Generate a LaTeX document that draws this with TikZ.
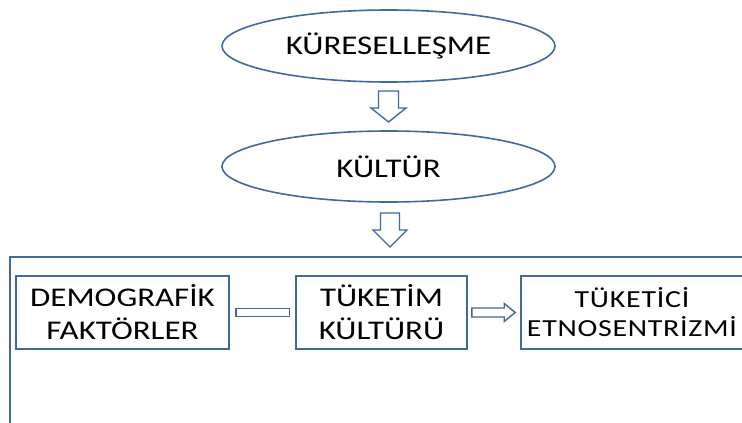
\documentclass[tikz,border=0pt]{standalone}
\usepackage{fontspec}
\setmainfont{Carlito}[FakeStretch=1.22]
\usetikzlibrary{shapes.geometric,calc}
\definecolor{lineblue}{HTML}{41699B}
\tikzset{
  oval/.style={ellipse, draw=lineblue, line width=1.6pt, inner sep=0pt},
  boxnode/.style={rectangle, draw=lineblue, line width=1.6pt, inner sep=0pt, align=center},
  hollow/.style={draw=lineblue, line width=1.4pt, fill=white, line join=miter},
  bigtxt/.style={font=\fontsize{27}{33}\selectfont},
  smalltxt/.style={font=\fontsize{24.5}{29}\selectfont\addfontfeature{LetterSpace=3}},
}
\begin{document}
\begin{tikzpicture}[x=1pt,y=-1pt]
\useasboundingbox (0,0) rectangle (742,423);
\begin{scope}
\clip (0,0) rectangle (742,423);
% ellipses
\node[oval, bigtxt, minimum width=333, minimum height=72] (glob) at (388.5,46) {KÜRESELLEŞME};
\node[oval, bigtxt, minimum width=333, minimum height=71] (kult) at (388.5,166.5) {KÜLTÜR};
% frame (open at right and bottom)
\coordinate (frameTL) at (10,257);
\draw[draw=lineblue, line width=1.6pt] (742,257) -- (frameTL) -- (10,430);
% boxes
\node[boxnode, bigtxt, minimum width=213, minimum height=73] (demo) at (122.5,312.5) {DEMOGRAFİK\\FAKTÖRLER};
\node[boxnode, bigtxt, minimum width=171, minimum height=73] (tuk) at (381.5,312.5) {TÜKETİM\\KÜLTÜRÜ};
\node[boxnode, smalltxt, minimum width=222, minimum height=73] (etno) at (632,312.5) {TÜKETİCİ\\ETNOSENTRİZMİ};
% hollow arrow glob -> kult
\coordinate (a1) at ($(glob.south)!0.5!(kult.north)$);
\draw[hollow] ([shift={(-10,-15.5)}]a1) -- ([shift={(10,-15.5)}]a1) -- ([shift={(10,1.5)}]a1) -- ([shift={(17.5,1.5)}]a1)
  -- ([shift={(0,15.5)}]a1) -- ([shift={(-17.5,1.5)}]a1) -- ([shift={(-10,1.5)}]a1) -- cycle;
% hollow arrow kult -> frame
\coordinate (a2) at (390,230);
\draw[hollow] ([shift={(-9.5,-17)}]a2) -- ([shift={(9.5,-17)}]a2) -- ([shift={(9.5,0)}]a2) -- ([shift={(17,0)}]a2)
  -- ([shift={(0,17)}]a2) -- ([shift={(-17,0)}]a2) -- ([shift={(-9.5,0)}]a2) -- cycle;
% hollow bar demo -- tuk
\draw[hollow] ($(demo.east)+(6,-4)$) rectangle ($(tuk.west)+(-6,4)$);
% hollow arrow tuk -> etno
\coordinate (a3s) at ($(tuk.east)+(4,0)$);
\coordinate (a3e) at ($(etno.west)+(-5,0)$);
\draw[hollow] ($(a3s)+(0,-4.5)$) -- ($(a3e)+(-11,-4.5)$) -- ($(a3e)+(-11,-9)$) -- (a3e)
  -- ($(a3e)+(-11,9)$) -- ($(a3e)+(-11,4.5)$) -- ($(a3s)+(0,4.5)$) -- cycle;
\end{scope}
\end{tikzpicture}
\end{document}
